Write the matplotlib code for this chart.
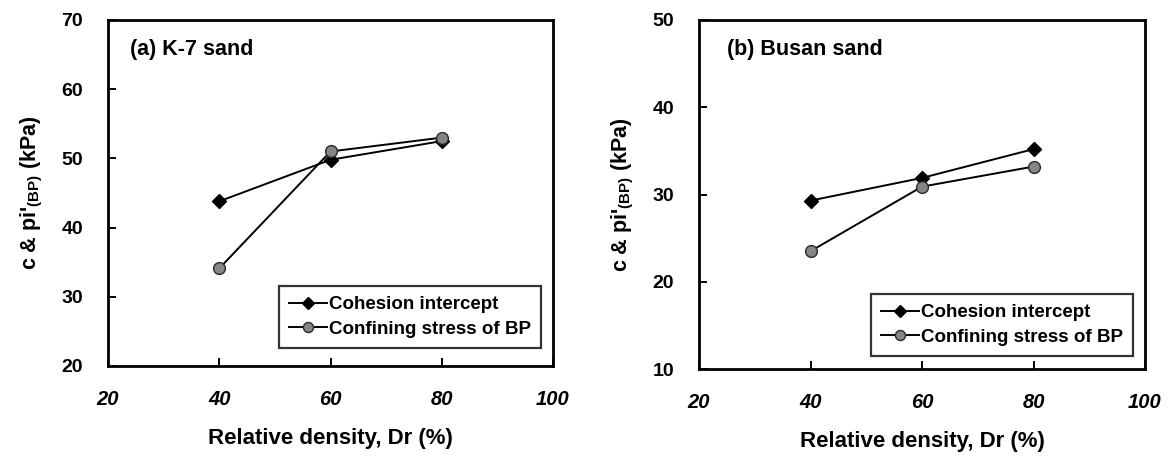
import matplotlib
matplotlib.use("Agg")
import matplotlib.pyplot as plt

plt.rcParams['font.family'] = ['Liberation Sans', 'DejaVu Sans']
plt.rcParams['font.weight'] = 'bold'
plt.rcParams['mathtext.fontset'] = 'custom'
plt.rcParams['mathtext.rm'] = 'Liberation Sans:bold'
plt.rcParams['mathtext.bf'] = 'Liberation Sans:bold'

dr = [40, 60, 80]
k7_cohesion = [43.8, 49.8, 52.5]
k7_bp = [34.1, 51.0, 53.0]
busan_cohesion = [29.3, 31.9, 35.2]
busan_bp = [23.5, 30.9, 33.2]

x_ticks = [20, 40, 60, 80, 100]
k7_yticks = [20, 30, 40, 50, 60, 70]
busan_yticks = [10, 20, 30, 40, 50]

W, H = 1173, 457
# (title, cohesion, bp, yticks, axes box px (l, r, top, bottom), title x, legend bottom)
panels = [
    ("(a) K-7 sand", k7_cohesion, k7_bp, k7_yticks, (108, 553, 20, 366), 0.049, 0.052),
    ("(b) Busan sand", busan_cohesion, busan_bp, busan_yticks, (699, 1145, 20, 369), 0.063, 0.037),
]

fig = plt.figure(figsize=(W / 100, H / 100), dpi=100)
for title, coh, bp, yt, (l, r, t, b), tx, lb in panels:
    ax = fig.add_axes([l / W, 1 - b / H, (r - l) / W, (b - t) / H])
    ax.plot(dr, coh, color='black', lw=1.4, marker='D', ms=7.5,
            markerfacecolor='black', markeredgecolor='black',
            label='Cohesion intercept', zorder=3)
    ax.plot(dr, bp, color='black', lw=1.4, marker='o', ms=8.5,
            markerfacecolor='#858585', markeredgecolor='#2a2a2a', markeredgewidth=1.0,
            label='Confining stress of BP', zorder=3)
    ax.set_xlim(x_ticks[0], x_ticks[-1])
    ax.set_ylim(yt[0], yt[-1])
    ax.set_xticks(x_ticks)
    ax.set_yticks(yt)
    ax.set_xticklabels([str(v) for v in x_ticks], fontstyle='italic', fontweight='bold', fontsize=14.5)
    ax.set_yticklabels([str(v) for v in yt], fontweight='bold', fontsize=14)
    ax.tick_params(direction='in', length=6, width=1.4)
    ax.tick_params(axis='x', pad=17)
    ax.tick_params(axis='y', pad=18)
    for s in ax.spines.values():
        s.set_linewidth(2.0)
    ax.set_xlabel('Relative density, Dr (%)', fontsize=16, fontweight='bold', labelpad=14)
    ax.set_ylabel(r"c & pi'$_{\mathrm{(BP)}}$ (kPa)", fontsize=15.5, fontweight='bold', labelpad=12)
    ax.text(tx, 0.915, title, transform=ax.transAxes, fontsize=15.5, fontweight='bold',
            va='center', ha='left')
    leg = ax.legend(loc='lower right', bbox_to_anchor=(1 - 12 / (r - l), lb), fontsize=13.5,
                    frameon=True, fancybox=False, edgecolor='black', handlelength=2.0,
                    borderpad=0.55, labelspacing=0.4, handletextpad=0.1, borderaxespad=0,
                    markerscale=0.85)
    leg.get_frame().set_linewidth(1.6)

fig.savefig('out.png', dpi=100)
